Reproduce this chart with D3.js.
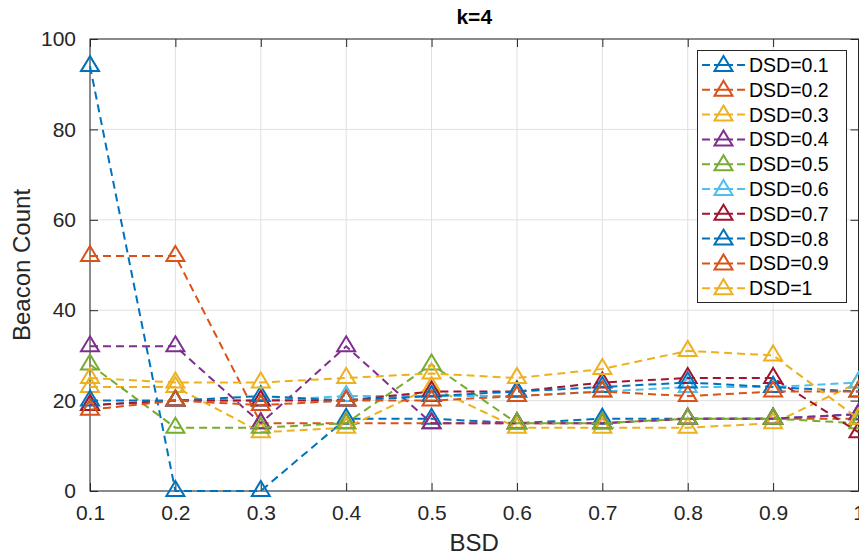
<!DOCTYPE html>
<html>
<head>
<meta charset="utf-8">
<script src="https://cdn.jsdelivr.net/npm/d3@7"></script>
<style>
  html, body { margin: 0; padding: 0; background: #fff; }
  svg { display: block; font-family: "Liberation Sans", Arial, Helvetica, sans-serif; }
</style>
</head>
<body>
<svg id="chart" width="859" height="557"></svg>
<script>
// ---- data ----
const bsd = [0.1, 0.2, 0.3, 0.4, 0.5, 0.6, 0.7, 0.8, 0.9, 1.0];
const xTicks = [0.1, 0.2, 0.3, 0.4, 0.5, 0.6, 0.7, 0.8, 0.9, 1];
const xTickLabels = ["0.1", "0.2", "0.3", "0.4", "0.5", "0.6", "0.7", "0.8", "0.9", "1"];
const yTicks = [0, 20, 40, 60, 80, 100];
const seriesNames = ["DSD=0.1", "DSD=0.2", "DSD=0.3", "DSD=0.4", "DSD=0.5",
                     "DSD=0.6", "DSD=0.7", "DSD=0.8", "DSD=0.9", "DSD=1"];
const dsd01 = [94, 0, 0, 16, 16, 15, 16, 16, 16, 17];
const dsd02 = [52, 52, 15, 15, 15, 15, 15, 16, 16, 16];
const dsd03 = [23, 23, 13, 14, 23, 14, 14, 14, 15, 24];
const dsd04 = [32, 32, 15, 32, 15, 15, 15, 16, 16, 17];
const dsd05 = [28, 14, 14, 15, 28, 15, 15, 16, 16, 15];
const dsd06 = [19, 20, 20, 21, 21, 21, 22, 23, 23, 24];
const dsd07 = [19, 20, 20, 20, 22, 22, 24, 25, 25, 13];
const dsd08 = [20, 20, 21, 20, 21, 22, 23, 24, 23, 22];
const dsd09 = [18, 20, 19, 20, 20, 21, 22, 21, 22, 22];
const dsd10 = [25, 24, 24, 25, 26, 25, 27, 31, 30, 16];
const seriesValues = [dsd01, dsd02, dsd03, dsd04, dsd05, dsd06, dsd07, dsd08, dsd09, dsd10];
const colors = ["#0072BD", "#D95319", "#EDB120", "#7E2F8E", "#77AC30",
                "#4DBEEE", "#A2142F", "#0072BD", "#D95319", "#EDB120"];

// ---- layout ----
const L = 90, R = 858.5, T = 39, B = 491;
const svg = d3.select("#chart");
const x = d3.scaleLinear().domain([0.1, 1]).range([L, R]);
const y = d3.scaleLinear().domain([0, 100]).range([B, T]);
const axisColor = "#262626";
const tickFont = 21;

// grid
const grid = svg.append("g");
grid.selectAll("line.gx").data(xTicks).enter().append("line")
  .attr("x1", d => x(d)).attr("x2", d => x(d)).attr("y1", T).attr("y2", B)
  .attr("stroke", "#e0e0e0").attr("stroke-width", 1);
grid.selectAll("line.gy").data(yTicks).enter().append("line")
  .attr("x1", L).attr("x2", R).attr("y1", d => y(d)).attr("y2", d => y(d))
  .attr("stroke", "#e0e0e0").attr("stroke-width", 1);

// axes
function styleAxis(g) {
  g.select(".domain").remove();
  g.selectAll(".tick line").attr("stroke", axisColor).attr("stroke-width", 1);
  g.selectAll(".tick text").attr("fill", axisColor).attr("font-size", tickFont)
    .attr("font-family", "Liberation Sans, Arial, sans-serif");
}
svg.append("g").attr("transform", `translate(0,${B})`)
  .call(d3.axisBottom(x).tickValues(xTicks).tickFormat((d, i) => xTickLabels[i]).tickSize(-8).tickPadding(14))
  .call(styleAxis);
svg.append("g").attr("transform", `translate(0,${T})`)
  .call(d3.axisTop(x).tickValues(xTicks).tickFormat("").tickSize(-8))
  .call(styleAxis);
svg.append("g").attr("transform", `translate(${L},0)`)
  .call(d3.axisLeft(y).tickValues(yTicks).tickSize(-8).tickPadding(14))
  .call(styleAxis);
svg.append("g").attr("transform", `translate(${R},0)`)
  .call(d3.axisRight(y).tickValues(yTicks).tickFormat("").tickSize(-8))
  .call(styleAxis);

// box
svg.append("rect").attr("x", L).attr("y", T).attr("width", R - L).attr("height", B - T)
  .attr("fill", "none").attr("stroke", axisColor).attr("stroke-width", 1);

// data
const triPath = "M0,-10 L9,5 L-9,5 Z";
const lineGen = d3.line().x((d, i) => x(bsd[i])).y(d => y(d));
const plot = svg.append("g");
seriesValues.forEach((vals, si) => {
  const g = plot.append("g");
  g.append("path").datum(vals).attr("d", lineGen)
    .attr("fill", "none").attr("stroke", colors[si]).attr("stroke-width", 2)
    .attr("stroke-dasharray", "8,5");
  g.selectAll("path.m").data(vals).enter().append("path")
    .attr("class", "m")
    .attr("d", triPath)
    .attr("transform", (d, i) => `translate(${x(bsd[i])},${y(d)})`)
    .attr("fill", "none").attr("stroke", colors[si]).attr("stroke-width", 2);
});

// title and labels
svg.append("text").attr("x", (L + R) / 2).attr("y", 24).attr("text-anchor", "middle")
  .attr("font-size", 21).attr("font-weight", "bold").attr("fill", "#000").text("k=4");
svg.append("text").attr("x", (L + R) / 2).attr("y", 551).attr("text-anchor", "middle")
  .attr("font-size", 24).attr("fill", axisColor).text("BSD");
svg.append("text").attr("transform", `translate(30,${(T + B) / 2}) rotate(-90)`)
  .attr("text-anchor", "middle").attr("font-size", 24).attr("fill", axisColor).text("Beacon Count");

// legend
const lg = svg.append("g");
lg.append("rect").attr("x", 697.5).attr("y", 50.5).attr("width", 149).attr("height", 252)
  .attr("fill", "#fff").attr("stroke", axisColor).attr("stroke-width", 1);
seriesNames.forEach((name, i) => {
  const cy = 65 + i * 24.8;
  lg.append("line").attr("x1", 702).attr("x2", 745).attr("y1", cy).attr("y2", cy)
    .attr("stroke", colors[i]).attr("stroke-width", 2).attr("stroke-dasharray", "8,4,19,4,8");
  lg.append("path").attr("d", triPath).attr("transform", `translate(723.5,${cy + 1})`)
    .attr("fill", "none").attr("stroke", colors[i]).attr("stroke-width", 2);
  lg.append("text").attr("x", 749).attr("y", cy + 7).attr("font-size", 19.5)
    .attr("fill", "#000").text(name);
});
</script>
</body>
</html>
